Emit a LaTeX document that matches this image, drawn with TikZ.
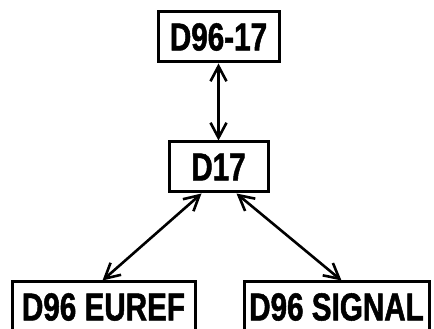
\documentclass[tikz,border=0pt]{standalone}
\usepackage{fontspec}
\usetikzlibrary{arrows.meta}
\newfontfamily\lbl[FakeStretch=0.76,FakeBold=1.3]{Liberation Sans}
\begin{document}
\begin{tikzpicture}[x=1pt,y=1pt,
  box/.style={draw, line width=3pt, inner sep=0pt, font=\lbl\bfseries\fontsize{39}{39}\selectfont},
  link/.style={line width=2.6pt, {Straight Barb[length=15pt,width=16pt,line width=2.6pt]}-{Straight Barb[length=15pt,width=16pt,line width=2.6pt]}}]
\useasboundingbox (0,0) rectangle (434,329);
\begin{scope}
\clip (0,0) rectangle (434,329);
\node[box, minimum width=121pt, minimum height=50pt] (top) at (218.5,292) {D96-17};
\node[box, minimum width=99pt, minimum height=50pt] (mid) at (218.5,162) {D17};
\node[box, minimum width=183pt, minimum height=50pt] (l) at (103.5,22) {D96 EUREF};
\node[box, minimum width=185pt, minimum height=50pt] (r) at (336.5,22) {D96 SIGNAL};
\end{scope}
\draw[link] (top.south) -- (mid.north);
\draw[link] ([xshift=34pt]mid.south west) -- ([xshift=-1pt]l.north);
\draw[link] ([xshift=-33pt]mid.south east) -- ([xshift=5pt]r.north);
\end{tikzpicture}
\end{document}
